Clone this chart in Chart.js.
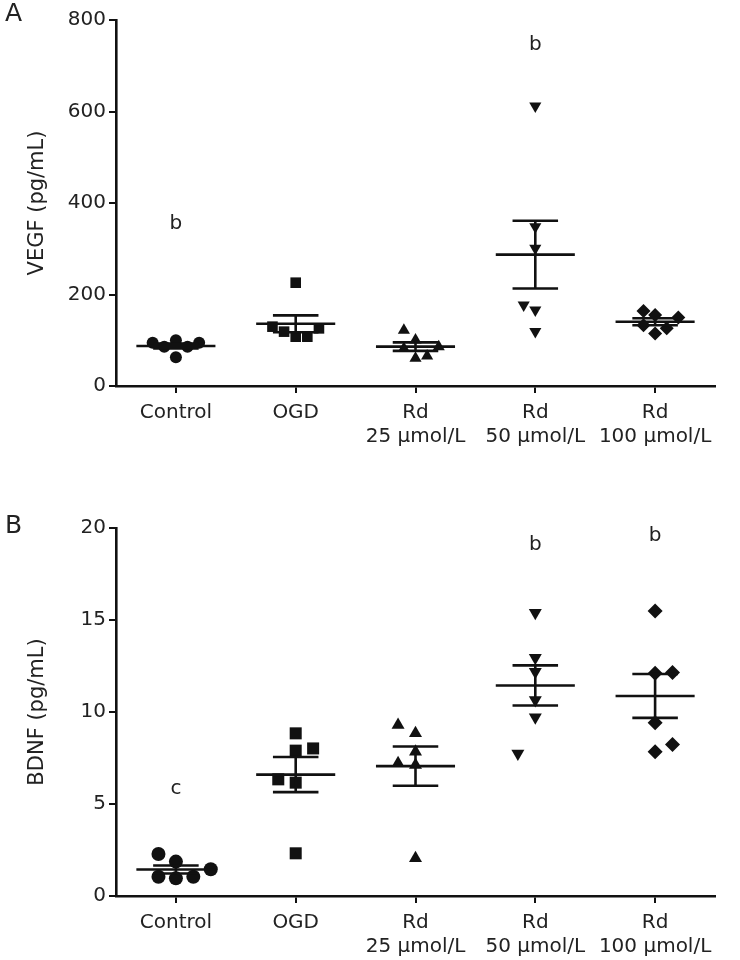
<!DOCTYPE html>
<html>
<head>
<meta charset="utf-8">
<script src="https://cdn.jsdelivr.net/npm/chart.js@4.4.1/dist/chart.umd.min.js"></script>
<style>
  html, body { margin: 0; padding: 0; background: #fff; }
  #wrap { position: relative; width: 740px; height: 960px; }
  .panel { position: absolute; left: 0; width: 740px; height: 480px; }
  #panelA { top: 0; }
  #panelB { top: 480px; }
</style>
</head>
<body>
<div id="wrap">
  <div class="panel" id="panelA"><canvas id="vegfChart" width="740" height="480"></canvas></div>
  <div class="panel" id="panelB"><canvas id="bdnfChart" width="740" height="480"></canvas></div>
</div>
<script>
// groups and tick labels
const groups = ["Control", "OGD", "Rd 25", "Rd 50", "Rd 100"];
const xTickLabels = [["Control"], ["OGD"], ["Rd", "25 µmol/L"], ["Rd", "50 µmol/L"], ["Rd", "100 µmol/L"]];

// VEGF (pg/mL), panel A
const vegfControl = [94.6, 86, 100, 62.7, 86, 94.6];
const vegfOGD = [225.8, 129.7, 118.8, 107.8, 107.8, 126];
const vegfRd25 = [122, 100.5, 82, 60.5, 65.5, 86];
const vegfRd50 = [612, 348, 301, 177, 166, 119];
const vegfRd100 = [164, 155, 150, 133, 115, 126];
const vegfTicks = [0, 200, 400, 600, 800];

// BDNF (pg/mL), panel B
const bdnfControl = [2.28, 1.87, 1.05, 0.96, 1.05, 1.45];
const bdnfOGD = [8.84, 7.9, 8.02, 6.34, 6.16, 2.32];
const bdnfRd25 = [9.29, 8.84, 7.84, 7.21, 7.12, 2.05];
const bdnfRd50 = [15.4, 12.95, 12.19, 10.65, 9.71, 7.75];
const bdnfRd100 = [15.49, 12.15, 12.1, 9.42, 8.24, 7.84];
const bdnfTicks = [0, 5, 10, 15, 20];

// significance letters
const vegfLetters = [{ group: 0, value: 354, text: "b" }, { group: 3, value: 745, text: "b" }];
const bdnfLetters = [{ group: 0, value: 5.8, text: "c" }, { group: 3, value: 19.1, text: "b" }, { group: 4, value: 19.6, text: "b" }];

// horizontal scatter columns (jitter) per point
const vegfCols = [[-2, -1, 0, 0, 1, 2], [0, -2, -1, 0, 1, 2], [-1, 0, -1, 0, 1, 2], [0, 0, 0, -1, 0, 0], [-1, 0, 2, -1, 0, 1]];
const bdnfCols = [[-1.5, 0, -1.5, 0, 1.5, 3], [0, 0, 1.5, -1.5, 0, 0], [-1.5, 0, 0, -1.5, 0, 0], [0, 0, 0, 0, 0, -1.5], [0, 1.5, 0, 0, 1.5, 0]];

const FONT = "'DejaVu Sans', sans-serif";
const INK = "#111";
const TEXT = "#222";
const colStep = 0.097;
const pointStyles = ["circle", "rect", "triangle", "triangle", "rectRot"];
const pointRotations = [0, 0, 0, 180, 0];

function meanOf(a) { return a.reduce((s, v) => s + v, 0) / a.length; }
function semOf(a) {
    const m = meanOf(a);
    const sd = Math.sqrt(a.reduce((s, v) => s + (v - m) * (v - m), 0) / (a.length - 1));
    return sd / Math.sqrt(a.length);
}

const lettersPlugin = {
    id: "lettersPlugin",
    afterDraw(chart, args, opts) {
        const { ctx, scales: { x, y } } = chart;
        ctx.save();
        ctx.fillStyle = TEXT;
        ctx.textAlign = "center";
        ctx.textBaseline = "middle";
        ctx.font = "20px " + FONT;
        opts.letters.forEach(l => ctx.fillText(l.text, x.getPixelForValue(l.group), y.getPixelForValue(l.value)));
        ctx.textAlign = "left";
        ctx.font = "25px " + FONT;
        ctx.fillText(opts.panel, 5, opts.panelY);
        ctx.restore();
    }
};

function buildChart(canvasId, series, cols, ticks, title, letters, panel, panelY, padTop, xHeight, radii) {
    const datasets = [];
    const segs = [];
    series.forEach((vals, i) => {
        const m = meanOf(vals);
        const s = semOf(vals);
        segs.push({ x: i - 0.33, y: m }, { x: i + 0.33, y: m }, { x: i, y: null });
        segs.push({ x: i - 0.19, y: m + s }, { x: i + 0.19, y: m + s }, { x: i, y: null });
        segs.push({ x: i - 0.19, y: m - s }, { x: i + 0.19, y: m - s }, { x: i, y: null });
        segs.push({ x: i, y: m - s }, { x: i, y: m + s }, { x: i, y: null });
    });
    datasets.push({
        type: "line",
        data: segs,
        borderColor: INK,
        borderWidth: 2.6,
        pointRadius: 0,
        spanGaps: false,
        fill: false
    });
    series.forEach((vals, i) => {
        datasets.push({
            type: "scatter",
            label: groups[i],
            data: vals.map((v, k) => ({ x: i + cols[i][k] * colStep, y: v })),
            pointStyle: pointStyles[i],
            rotation: pointRotations[i],
            pointRadius: radii[i],
            backgroundColor: INK,
            borderColor: INK,
            borderWidth: 0
        });
    });

    return new Chart(document.getElementById(canvasId).getContext("2d"), {
        type: "scatter",
        data: { datasets },
        plugins: [lettersPlugin],
        options: {
            responsive: false,
            animation: false,
            events: [],
            layout: { padding: { top: padTop, right: 25, bottom: 0, left: 0 } },
            plugins: {
                legend: { display: false },
                tooltip: { enabled: false },
                lettersPlugin: { letters, panel, panelY }
            },
            scales: {
                x: {
                    type: "linear",
                    min: -0.5,
                    max: 4.5,
                    afterBuildTicks: sc => { sc.ticks = groups.map((g, i) => ({ value: i })); },
                    afterFit: sc => { sc.height = xHeight; },
                    border: { display: true, color: INK, width: 2.6 },
                    grid: { display: true, drawOnChartArea: false, drawTicks: true, tickLength: 7, color: INK, lineWidth: 2 },
                    ticks: {
                        callback: v => xTickLabels[v],
                        color: TEXT,
                        font: { family: FONT, size: 20 },
                        padding: 8,
                        maxRotation: 0,
                        autoSkip: false
                    }
                },
                y: {
                    min: ticks[0],
                    max: ticks[ticks.length - 1],
                    afterBuildTicks: sc => { sc.ticks = ticks.map(v => ({ value: v })); },
                    afterFit: sc => { sc.width = 116; },
                    border: { display: true, color: INK, width: 2.6 },
                    grid: { display: true, drawOnChartArea: false, drawTicks: true, tickLength: 7, color: INK, lineWidth: 2 },
                    ticks: {
                        color: TEXT,
                        font: { family: FONT, size: 20 },
                        padding: 3
                    },
                    title: {
                        display: true,
                        text: title,
                        color: TEXT,
                        font: { family: FONT, size: 21 },
                        padding: { top: 25, bottom: 0 }
                    }
                }
            }
        }
    });
}

document.addEventListener("DOMContentLoaded", () => {
    buildChart("vegfChart",
        [vegfControl, vegfOGD, vegfRd25, vegfRd50, vegfRd100], vegfCols, vegfTicks,
        "VEGF (pg/mL)", vegfLetters, "A", 14, 20, 94, [6, 7.5, 7, 7, 7]);
    buildChart("bdnfChart",
        [bdnfControl, bdnfOGD, bdnfRd25, bdnfRd50, bdnfRd100], bdnfCols, bdnfTicks,
        "BDNF (pg/mL)", bdnfLetters, "B", 46, 48, 64, [7, 8.5, 7.5, 7.5, 7.5]);
});
</script>
</body>
</html>
